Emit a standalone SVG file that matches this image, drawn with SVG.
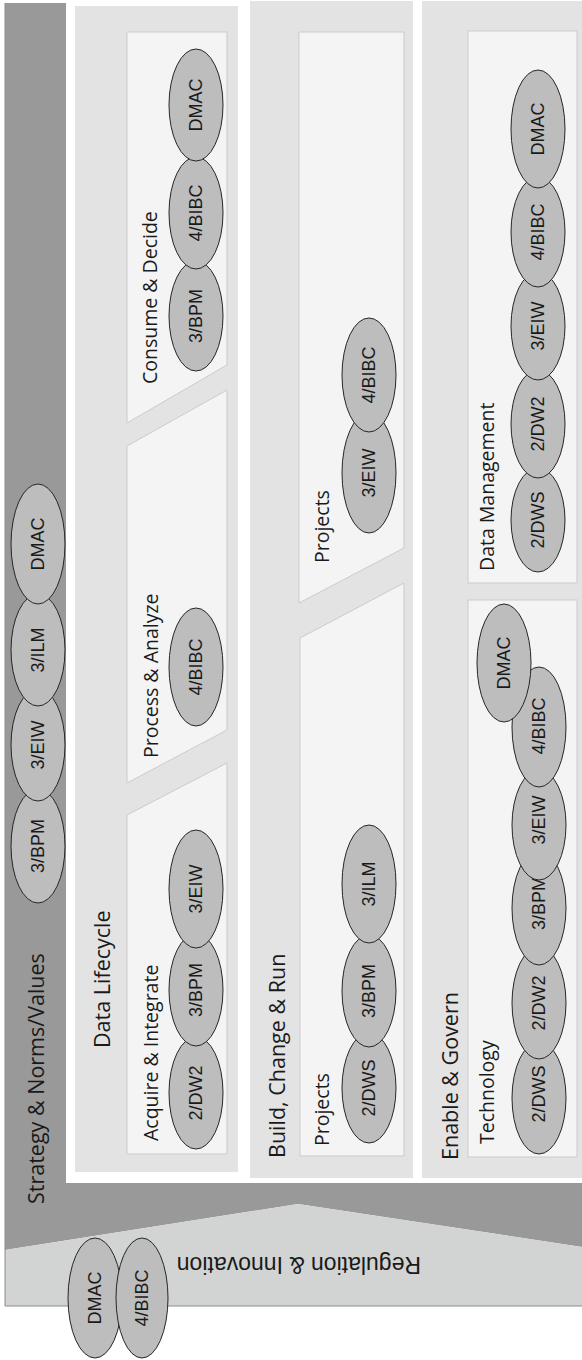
<svg xmlns="http://www.w3.org/2000/svg" width="582" height="1360" viewBox="0 0 582 1360">
  <defs>
    <style>
      .panel { fill: #e3e3e3; }
      .box { fill: #f4f4f4; stroke: #cbcbcb; stroke-width: 1; }
      .pill { fill: #bdbdbd; stroke: #262626; stroke-width: 1; }
      .title { font-family: "Open Sans", "Noto Sans", sans-serif; font-size: 21.5px; fill: #1a1a1a; }
      .sub { font-family: "Open Sans", "Noto Sans", sans-serif; font-size: 19.5px; fill: #1a1a1a; }
      .tag { font-family: "Liberation Sans", Arial, sans-serif; font-size: 18px; fill: #1a1a1a; text-anchor: middle; }
      .reg { font-family: "Liberation Sans", Arial, sans-serif; font-size: 23px; fill: #1a1a1a; }
    </style>
  </defs>

  <rect width="582" height="1360" fill="#ffffff"/>

  <!-- outer frame: strategy band (dark) and regulation base (light) -->
  <g id="strategy">
    <path d="M5,3 H66 V1183 H582 V1247 L298,1204 L5,1250 Z" fill="#999999"/>
    <text class="title" transform="translate(44,1204) rotate(-90)">Strategy &amp; Norms/Values</text>
  </g>
  <g id="regulation">
    <path d="M5,1250 L298,1204 L582,1247 V1306 H5 Z" fill="#d2d3d3"/>
    <path d="M5,3 V1306 H582" fill="none" stroke="#8c8c8c" stroke-width="1"/>
    <text class="reg" transform="translate(421,1257) rotate(180)">Regulation &amp; Innovation</text>
  </g>

  <!-- pillars -->
  <g id="data-lifecycle">
    <rect class="panel" x="75" y="6" width="163" height="1166"/>
    <text class="title" transform="translate(110,1048) rotate(-90)">Data Lifecycle</text>
  </g>
  <g id="build-change-run">
    <rect class="panel" x="250" y="1" width="163" height="1177"/>
    <text class="title" transform="translate(285,1158) rotate(-90)">Build, Change &amp; Run</text>
  </g>
  <g id="enable-govern">
    <rect class="panel" x="422" y="1" width="160" height="1177"/>
    <text class="title" transform="translate(458,1160) rotate(-90)">Enable &amp; Govern</text>
  </g>

  <!-- stages -->
  <g id="consume-decide">
    <polygon class="box" points="127,32 227,32 227,365 127,423"/>
    <text class="sub" transform="translate(157,384) rotate(-90)">Consume &amp; Decide</text>
  </g>
  <g id="process-analyze">
    <polygon class="box" points="127,446 227,390 227,730 127,783"/>
    <text class="sub" transform="translate(158,758) rotate(-90)">Process &amp; Analyze</text>
  </g>
  <g id="acquire-integrate">
    <polygon class="box" points="127,815 227,763 227,1154 127,1154"/>
    <text class="sub" transform="translate(158,1141) rotate(-90)">Acquire &amp; Integrate</text>
  </g>
  <g id="projects-upper">
    <polygon class="box" points="299,32 404,32 404,548 299,603"/>
    <text class="sub" transform="translate(329,563) rotate(-90)">Projects</text>
  </g>
  <g id="projects-lower">
    <polygon class="box" points="300,638 404,583 404,1156 300,1156"/>
    <text class="sub" transform="translate(329,1146) rotate(-90)">Projects</text>
  </g>
  <g id="data-management">
    <rect class="box" x="468" y="31" width="109" height="552"/>
    <text class="sub" transform="translate(494,571) rotate(-90)">Data Management</text>
  </g>
  <g id="technology">
    <rect class="box" x="468" y="600" width="109" height="557"/>
    <text class="sub" transform="translate(494,1144) rotate(-90)">Technology</text>
  </g>

  <!-- capability ellipses; later ones overlap earlier ones -->
  <g id="strategy-tags">
    <ellipse class="pill" cx="38" cy="846" rx="27" ry="57"/>
    <text class="tag" transform="translate(44,846) rotate(-90)">3/BPM</text>
    <ellipse class="pill" cx="38" cy="745" rx="27" ry="56"/>
    <text class="tag" transform="translate(44,745) rotate(-90)">3/EIW</text>
    <ellipse class="pill" cx="38" cy="650" rx="27" ry="56"/>
    <text class="tag" transform="translate(44,650) rotate(-90)">3/ILM</text>
    <ellipse class="pill" cx="38" cy="544" rx="27" ry="60"/>
    <text class="tag" transform="translate(44,544) rotate(-90)">DMAC</text>
  </g>

  <g id="consume-tags">
    <ellipse class="pill" cx="196" cy="316" rx="27" ry="55"/>
    <text class="tag" transform="translate(202,316) rotate(-90)">3/BPM</text>
    <ellipse class="pill" cx="196" cy="213" rx="27" ry="56"/>
    <text class="tag" transform="translate(202,213) rotate(-90)">4/BIBC</text>
    <ellipse class="pill" cx="196" cy="105" rx="27" ry="56"/>
    <text class="tag" transform="translate(202,105) rotate(-90)">DMAC</text>
  </g>

  <g id="process-tags">
    <ellipse class="pill" cx="196" cy="667" rx="27" ry="59"/>
    <text class="tag" transform="translate(202,667) rotate(-90)">4/BIBC</text>
  </g>

  <g id="acquire-tags">
    <ellipse class="pill" cx="196" cy="1093" rx="27" ry="56"/>
    <text class="tag" transform="translate(202,1093) rotate(-90)">2/DW2</text>
    <ellipse class="pill" cx="196" cy="990" rx="27" ry="56"/>
    <text class="tag" transform="translate(202,990) rotate(-90)">3/BPM</text>
    <ellipse class="pill" cx="196" cy="889" rx="27" ry="59"/>
    <text class="tag" transform="translate(202,889) rotate(-90)">3/EIW</text>
  </g>

  <g id="projects-upper-tags">
    <ellipse class="pill" cx="369" cy="473" rx="27" ry="60"/>
    <text class="tag" transform="translate(375,473) rotate(-90)">3/EIW</text>
    <ellipse class="pill" cx="369" cy="375" rx="27" ry="57"/>
    <text class="tag" transform="translate(375,375) rotate(-90)">4/BIBC</text>
  </g>

  <g id="projects-lower-tags">
    <ellipse class="pill" cx="369" cy="1088" rx="27" ry="55"/>
    <text class="tag" transform="translate(375,1088) rotate(-90)">2/DWS</text>
    <ellipse class="pill" cx="369" cy="991" rx="27" ry="56"/>
    <text class="tag" transform="translate(375,991) rotate(-90)">3/BPM</text>
    <ellipse class="pill" cx="369" cy="884" rx="27" ry="59"/>
    <text class="tag" transform="translate(375,884) rotate(-90)">3/ILM</text>
  </g>

  <g id="data-management-tags">
    <ellipse class="pill" cx="538" cy="520" rx="27" ry="52"/>
    <text class="tag" transform="translate(544,520) rotate(-90)">2/DWS</text>
    <ellipse class="pill" cx="538" cy="424" rx="27" ry="54"/>
    <text class="tag" transform="translate(544,424) rotate(-90)">2/DW2</text>
    <ellipse class="pill" cx="538" cy="326" rx="27" ry="54"/>
    <text class="tag" transform="translate(544,326) rotate(-90)">3/EIW</text>
    <ellipse class="pill" cx="538" cy="232" rx="27" ry="55"/>
    <text class="tag" transform="translate(544,232) rotate(-90)">4/BIBC</text>
    <ellipse class="pill" cx="538" cy="129" rx="27" ry="59"/>
    <text class="tag" transform="translate(544,129) rotate(-90)">DMAC</text>
  </g>

  <g id="technology-tags">
    <ellipse class="pill" cx="539" cy="1098" rx="27" ry="56"/>
    <text class="tag" transform="translate(545,1094) rotate(-90)">2/DWS</text>
    <ellipse class="pill" cx="539" cy="1003" rx="27" ry="56"/>
    <text class="tag" transform="translate(545,1003) rotate(-90)">2/DW2</text>
    <ellipse class="pill" cx="539" cy="908" rx="27" ry="57"/>
    <text class="tag" transform="translate(545,903) rotate(-90)">3/BPM</text>
    <ellipse class="pill" cx="539" cy="825" rx="27" ry="55"/>
    <text class="tag" transform="translate(545,820) rotate(-90)">3/EIW</text>
    <ellipse class="pill" cx="539" cy="727" rx="27" ry="60"/>
    <text class="tag" transform="translate(545,726) rotate(-90)">4/BIBC</text>
    <ellipse class="pill" cx="504" cy="663" rx="27" ry="59"/>
    <text class="tag" transform="translate(510,663) rotate(-90)">DMAC</text>
  </g>

  <g id="regulation-tags">
    <ellipse class="pill" cx="95" cy="1298" rx="27" ry="60"/>
    <text class="tag" transform="translate(101,1298) rotate(-90)">DMAC</text>
    <ellipse class="pill" cx="142" cy="1298" rx="26" ry="60"/>
    <text class="tag" transform="translate(148,1298) rotate(-90)">4/BIBC</text>
  </g>
</svg>
